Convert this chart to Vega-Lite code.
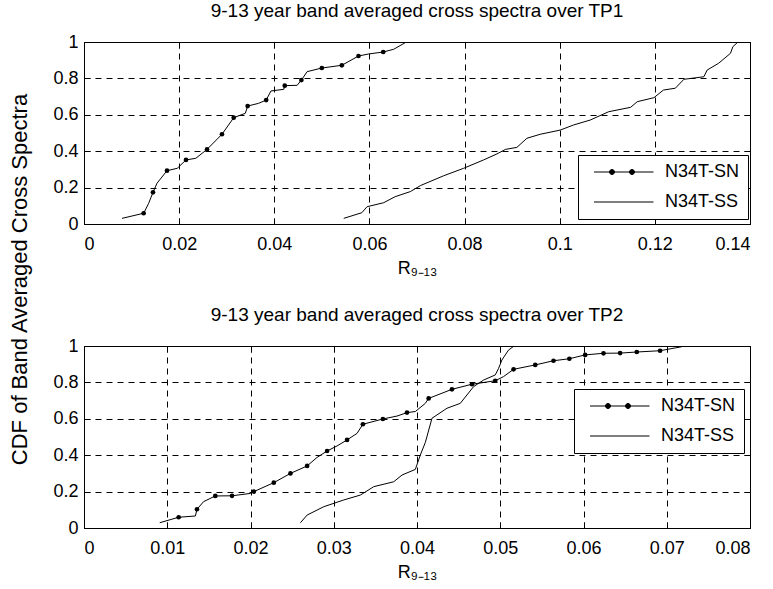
{
  "$schema": "https://vega.github.io/schema/vega-lite/v6.json",
  "background": "white",
  "padding": {"left": 7, "top": 1, "right": 2, "bottom": 4},
  "spacing": 122,
  "bounds": "flush",
  "resolve": {"legend": {"color": "independent"}, "scale": {"color": "independent"}},
  "config": {
    "font": "Liberation Sans",
    "view": {"stroke": "black", "strokeWidth": 1},
    "axis": {
      "labelFont": "Liberation Sans", "labelFontSize": 18, "labelColor": "black",
      "titleFont": "Liberation Sans", "titleFontSize": 18, "titleFontWeight": "normal", "titleColor": "black",
      "domain": false, "grid": true, "gridColor": "black", "gridDash": [6, 5], "gridWidth": 1, "gridOpacity": 1,
      "ticks": true, "tickColor": "black", "tickSize": -6, "tickWidth": 1
    },
    "axisX": {"labelPadding": 17},
    "axisY": {"labelPadding": 12},
    "title": {"font": "Liberation Sans", "fontSize": 19, "fontWeight": "normal", "color": "black", "offset": 12},
    "legend": {
      "title": null, "strokeColor": "black", "fillColor": "white", "padding": 8, "rowPadding": 12,
      "symbolSize": 100, "labelOffset": 61, "labelFont": "Liberation Sans", "labelFontSize": 18, "labelColor": "black",
      "symbolStrokeWidth": 1, "symbolStrokeColor": "black", "symbolFillColor": "black", "cornerRadius": 0
    }
  },
  "datasets": {
    "tp1": [
      {"s": "N34T-SN", "x": 0.0080, "y": 0.031, "m": 0},
      {"s": "N34T-SN", "x": 0.01254, "y": 0.059, "m": 1},
      {"s": "N34T-SN", "x": 0.0136, "y": 0.114, "m": 0},
      {"s": "N34T-SN", "x": 0.0145, "y": 0.174, "m": 1},
      {"s": "N34T-SN", "x": 0.01535, "y": 0.224, "m": 0},
      {"s": "N34T-SN", "x": 0.01745, "y": 0.293, "m": 1},
      {"s": "N34T-SN", "x": 0.0196, "y": 0.306, "m": 0},
      {"s": "N34T-SN", "x": 0.02144, "y": 0.352, "m": 1},
      {"s": "N34T-SN", "x": 0.0235, "y": 0.361, "m": 0},
      {"s": "N34T-SN", "x": 0.02586, "y": 0.410, "m": 1},
      {"s": "N34T-SN", "x": 0.0290, "y": 0.493, "m": 1},
      {"s": "N34T-SN", "x": 0.03147, "y": 0.584, "m": 1},
      {"s": "N34T-SN", "x": 0.0339, "y": 0.608, "m": 0},
      {"s": "N34T-SN", "x": 0.0344, "y": 0.648, "m": 1},
      {"s": "N34T-SN", "x": 0.0367, "y": 0.663, "m": 0},
      {"s": "N34T-SN", "x": 0.0383, "y": 0.681, "m": 1},
      {"s": "N34T-SN", "x": 0.0393, "y": 0.731, "m": 0},
      {"s": "N34T-SN", "x": 0.0420, "y": 0.740, "m": 0},
      {"s": "N34T-SN", "x": 0.0422, "y": 0.760, "m": 1},
      {"s": "N34T-SN", "x": 0.0448, "y": 0.762, "m": 0},
      {"s": "N34T-SN", "x": 0.0457, "y": 0.791, "m": 1},
      {"s": "N34T-SN", "x": 0.0469, "y": 0.837, "m": 0},
      {"s": "N34T-SN", "x": 0.0500, "y": 0.857, "m": 1},
      {"s": "N34T-SN", "x": 0.0542, "y": 0.872, "m": 1},
      {"s": "N34T-SN", "x": 0.0577, "y": 0.923, "m": 1},
      {"s": "N34T-SN", "x": 0.0598, "y": 0.934, "m": 0},
      {"s": "N34T-SN", "x": 0.0629, "y": 0.945, "m": 1},
      {"s": "N34T-SN", "x": 0.0651, "y": 0.960, "m": 0},
      {"s": "N34T-SN", "x": 0.0675, "y": 0.996, "m": 0},
      {"s": "N34T-SS", "x": 0.0546, "y": 0.031, "m": 0},
      {"s": "N34T-SS", "x": 0.0584, "y": 0.062, "m": 0},
      {"s": "N34T-SS", "x": 0.0595, "y": 0.095, "m": 0},
      {"s": "N34T-SS", "x": 0.0630, "y": 0.117, "m": 0},
      {"s": "N34T-SS", "x": 0.0654, "y": 0.150, "m": 0},
      {"s": "N34T-SS", "x": 0.0686, "y": 0.178, "m": 0},
      {"s": "N34T-SS", "x": 0.0708, "y": 0.212, "m": 0},
      {"s": "N34T-SS", "x": 0.0756, "y": 0.265, "m": 0},
      {"s": "N34T-SS", "x": 0.0798, "y": 0.306, "m": 0},
      {"s": "N34T-SS", "x": 0.0840, "y": 0.352, "m": 0},
      {"s": "N34T-SS", "x": 0.0868, "y": 0.385, "m": 0},
      {"s": "N34T-SS", "x": 0.0886, "y": 0.410, "m": 0},
      {"s": "N34T-SS", "x": 0.0910, "y": 0.421, "m": 0},
      {"s": "N34T-SS", "x": 0.0931, "y": 0.471, "m": 0},
      {"s": "N34T-SS", "x": 0.0959, "y": 0.493, "m": 0},
      {"s": "N34T-SS", "x": 0.1001, "y": 0.516, "m": 0},
      {"s": "N34T-SS", "x": 0.1029, "y": 0.544, "m": 0},
      {"s": "N34T-SS", "x": 0.1064, "y": 0.571, "m": 0},
      {"s": "N34T-SS", "x": 0.1103, "y": 0.617, "m": 0},
      {"s": "N34T-SS", "x": 0.1149, "y": 0.641, "m": 0},
      {"s": "N34T-SS", "x": 0.1163, "y": 0.672, "m": 0},
      {"s": "N34T-SS", "x": 0.1198, "y": 0.694, "m": 0},
      {"s": "N34T-SS", "x": 0.1218, "y": 0.736, "m": 0},
      {"s": "N34T-SS", "x": 0.1243, "y": 0.746, "m": 0},
      {"s": "N34T-SS", "x": 0.1261, "y": 0.795, "m": 0},
      {"s": "N34T-SS", "x": 0.1303, "y": 0.809, "m": 0},
      {"s": "N34T-SS", "x": 0.1310, "y": 0.846, "m": 0},
      {"s": "N34T-SS", "x": 0.1334, "y": 0.883, "m": 0},
      {"s": "N34T-SS", "x": 0.1359, "y": 0.938, "m": 0},
      {"s": "N34T-SS", "x": 0.1364, "y": 0.974, "m": 0},
      {"s": "N34T-SS", "x": 0.1373, "y": 0.996, "m": 0}
    ],
    "tp2": [
      {"s": "N34T-SN", "x": 0.0091, "y": 0.029, "m": 0},
      {"s": "N34T-SN", "x": 0.01137, "y": 0.059, "m": 1},
      {"s": "N34T-SN", "x": 0.01338, "y": 0.066, "m": 0},
      {"s": "N34T-SN", "x": 0.01357, "y": 0.103, "m": 1},
      {"s": "N34T-SN", "x": 0.01437, "y": 0.145, "m": 0},
      {"s": "N34T-SN", "x": 0.01577, "y": 0.176, "m": 1},
      {"s": "N34T-SN", "x": 0.01778, "y": 0.177, "m": 1},
      {"s": "N34T-SN", "x": 0.0200, "y": 0.190, "m": 0},
      {"s": "N34T-SN", "x": 0.0204, "y": 0.200, "m": 1},
      {"s": "N34T-SN", "x": 0.0228, "y": 0.249, "m": 1},
      {"s": "N34T-SN", "x": 0.0248, "y": 0.300, "m": 1},
      {"s": "N34T-SN", "x": 0.0268, "y": 0.341, "m": 1},
      {"s": "N34T-SN", "x": 0.0280, "y": 0.388, "m": 0},
      {"s": "N34T-SN", "x": 0.0292, "y": 0.423, "m": 1},
      {"s": "N34T-SN", "x": 0.0304, "y": 0.451, "m": 0},
      {"s": "N34T-SN", "x": 0.0316, "y": 0.484, "m": 1},
      {"s": "N34T-SN", "x": 0.0328, "y": 0.520, "m": 0},
      {"s": "N34T-SN", "x": 0.0335, "y": 0.570, "m": 1},
      {"s": "N34T-SN", "x": 0.0359, "y": 0.599, "m": 1},
      {"s": "N34T-SN", "x": 0.0376, "y": 0.615, "m": 0},
      {"s": "N34T-SN", "x": 0.0388, "y": 0.634, "m": 1},
      {"s": "N34T-SN", "x": 0.0398, "y": 0.640, "m": 0},
      {"s": "N34T-SN", "x": 0.0410, "y": 0.685, "m": 0},
      {"s": "N34T-SN", "x": 0.0414, "y": 0.712, "m": 1},
      {"s": "N34T-SN", "x": 0.0442, "y": 0.762, "m": 1},
      {"s": "N34T-SN", "x": 0.0466, "y": 0.790, "m": 1},
      {"s": "N34T-SN", "x": 0.0494, "y": 0.809, "m": 1},
      {"s": "N34T-SN", "x": 0.0504, "y": 0.832, "m": 0},
      {"s": "N34T-SN", "x": 0.0516, "y": 0.872, "m": 1},
      {"s": "N34T-SN", "x": 0.0542, "y": 0.896, "m": 1},
      {"s": "N34T-SN", "x": 0.0564, "y": 0.919, "m": 1},
      {"s": "N34T-SN", "x": 0.0583, "y": 0.930, "m": 1},
      {"s": "N34T-SN", "x": 0.0602, "y": 0.951, "m": 1},
      {"s": "N34T-SN", "x": 0.0624, "y": 0.960, "m": 1},
      {"s": "N34T-SN", "x": 0.0644, "y": 0.961, "m": 1},
      {"s": "N34T-SN", "x": 0.0664, "y": 0.967, "m": 1},
      {"s": "N34T-SN", "x": 0.0692, "y": 0.974, "m": 1},
      {"s": "N34T-SN", "x": 0.0718, "y": 0.996, "m": 0},
      {"s": "N34T-SS", "x": 0.0260, "y": 0.029, "m": 0},
      {"s": "N34T-SS", "x": 0.0268, "y": 0.071, "m": 0},
      {"s": "N34T-SS", "x": 0.0288, "y": 0.117, "m": 0},
      {"s": "N34T-SS", "x": 0.0312, "y": 0.154, "m": 0},
      {"s": "N34T-SS", "x": 0.0332, "y": 0.181, "m": 0},
      {"s": "N34T-SS", "x": 0.0348, "y": 0.227, "m": 0},
      {"s": "N34T-SS", "x": 0.0372, "y": 0.254, "m": 0},
      {"s": "N34T-SS", "x": 0.0382, "y": 0.291, "m": 0},
      {"s": "N34T-SS", "x": 0.0398, "y": 0.322, "m": 0},
      {"s": "N34T-SS", "x": 0.0404, "y": 0.401, "m": 0},
      {"s": "N34T-SS", "x": 0.0410, "y": 0.470, "m": 0},
      {"s": "N34T-SS", "x": 0.0418, "y": 0.603, "m": 0},
      {"s": "N34T-SS", "x": 0.0436, "y": 0.658, "m": 0},
      {"s": "N34T-SS", "x": 0.0452, "y": 0.685, "m": 0},
      {"s": "N34T-SS", "x": 0.0468, "y": 0.777, "m": 0},
      {"s": "N34T-SS", "x": 0.0480, "y": 0.813, "m": 0},
      {"s": "N34T-SS", "x": 0.0494, "y": 0.841, "m": 0},
      {"s": "N34T-SS", "x": 0.0498, "y": 0.877, "m": 0},
      {"s": "N34T-SS", "x": 0.0502, "y": 0.923, "m": 0},
      {"s": "N34T-SS", "x": 0.0510, "y": 0.978, "m": 0},
      {"s": "N34T-SS", "x": 0.0516, "y": 0.998, "m": 0}
    ]
  },
  "vconcat": [
    {
      "width": 666, "height": 182,
      "title": "9-13 year band averaged cross spectra over TP1",
      "data": {"name": "tp1"},
      "resolve": {"axis": {"x": "independent", "y": "independent"}},
      "layer": [
        {
          "mark": {"type": "line", "strokeWidth": 1},
          "encoding": {
            "x": {"field": "x", "type": "quantitative", "scale": {"domain": [0, 0.14], "nice": false, "zero": false},
                  "axis": {"values": [0, 0.02, 0.04, 0.06, 0.08, 0.1, 0.12, 0.14], "format": "~g", "title": "R₉₋₁₃", "titlePadding": 6}},
            "y": {"field": "y", "type": "quantitative", "scale": {"domain": [0, 1], "nice": false},
                  "axis": {"values": [0, 0.2, 0.4, 0.6, 0.8, 1], "format": "~g", "title": "CDF of Band Averaged Cross Spectra", "titleFontSize": 22, "titleX": -53, "titleY": 237}},
            "color": {"field": "s", "type": "nominal", "scale": {"domain": ["N34T-SN", "N34T-SS"], "range": ["black", "black"]},
                      "legend": {"orient": "none", "legendX": 494, "legendY": 113,
                                 "encode": {"symbols": {"update": {
                                   "shape": {"signal": "datum.value === 'N34T-SN' ? 'M-0.2,0H11.7M2.9,0A0.5,0.5,0,1,1,3.9,0A0.5,0.5,0,1,1,2.9,0M6.9,0A0.5,0.5,0,1,1,7.9,0A0.5,0.5,0,1,1,6.9,0' : 'M-0.2,0H11.7'"},
                                   "fill": {"value": "black"}, "stroke": {"value": "black"}, "opacity": {"value": 1}}}}}}
          }
        },
        {
          "transform": [{"filter": "datum.m == 1"}],
          "mark": {"type": "point", "filled": true, "size": 22, "color": "black", "opacity": 1},
          "encoding": {
            "x": {"field": "x", "type": "quantitative",
                  "axis": {"orient": "top", "values": [0, 0.02, 0.04, 0.06, 0.08, 0.1, 0.12, 0.14], "labels": false, "grid": false, "title": null}},
            "y": {"field": "y", "type": "quantitative",
                  "axis": {"orient": "right", "values": [0, 0.2, 0.4, 0.6, 0.8, 1], "labels": false, "grid": false, "title": null}}
          }
        }
      ]
    },
    {
      "width": 666, "height": 182,
      "title": "9-13 year band averaged cross spectra over TP2",
      "data": {"name": "tp2"},
      "resolve": {"axis": {"x": "independent", "y": "independent"}},
      "layer": [
        {
          "mark": {"type": "line", "strokeWidth": 1},
          "encoding": {
            "x": {"field": "x", "type": "quantitative", "scale": {"domain": [0, 0.08], "nice": false, "zero": false},
                  "axis": {"values": [0, 0.01, 0.02, 0.03, 0.04, 0.05, 0.06, 0.07, 0.08], "format": "~g", "title": "R₉₋₁₃", "titlePadding": 6}},
            "y": {"field": "y", "type": "quantitative", "scale": {"domain": [0, 1], "nice": false},
                  "axis": {"values": [0, 0.2, 0.4, 0.6, 0.8, 1], "format": "~g", "title": null}},
            "color": {"field": "s", "type": "nominal", "scale": {"domain": ["N34T-SN", "N34T-SS"], "range": ["black", "black"]},
                      "legend": {"orient": "none", "legendX": 490, "legendY": 43,
                                 "encode": {"symbols": {"update": {
                                   "shape": {"signal": "datum.value === 'N34T-SN' ? 'M-0.2,0H11.7M2.9,0A0.5,0.5,0,1,1,3.9,0A0.5,0.5,0,1,1,2.9,0M6.9,0A0.5,0.5,0,1,1,7.9,0A0.5,0.5,0,1,1,6.9,0' : 'M-0.2,0H11.7'"},
                                   "fill": {"value": "black"}, "stroke": {"value": "black"}, "opacity": {"value": 1}}}}}}
          }
        },
        {
          "transform": [{"filter": "datum.m == 1"}],
          "mark": {"type": "point", "filled": true, "size": 22, "color": "black", "opacity": 1},
          "encoding": {
            "x": {"field": "x", "type": "quantitative",
                  "axis": {"orient": "top", "values": [0, 0.01, 0.02, 0.03, 0.04, 0.05, 0.06, 0.07, 0.08], "labels": false, "grid": false, "title": null}},
            "y": {"field": "y", "type": "quantitative",
                  "axis": {"orient": "right", "values": [0, 0.2, 0.4, 0.6, 0.8, 1], "labels": false, "grid": false, "title": null}}
          }
        }
      ]
    }
  ]
}
